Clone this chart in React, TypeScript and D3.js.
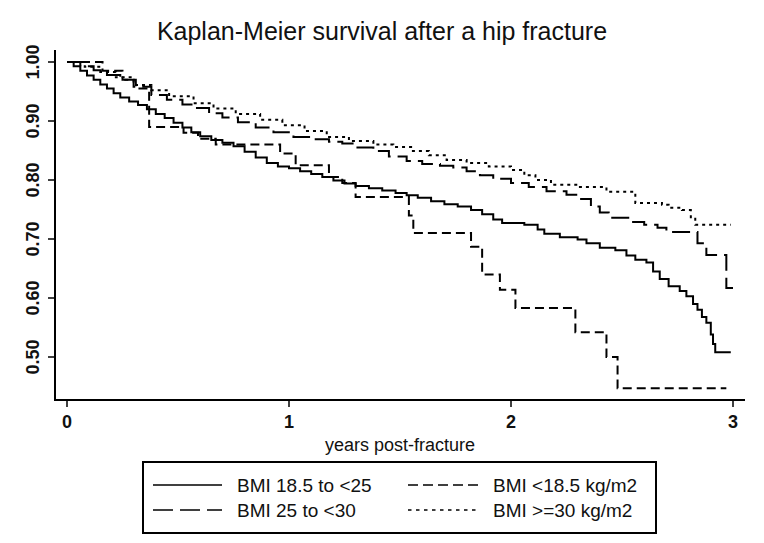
import React from "react";
import * as d3 from "d3";

const TITLE = "Kaplan-Meier survival after a hip fracture";
const X_LABEL = "years post-fracture";
const xTicks = [0, 1, 2, 3];
const yTicks = [0.5, 0.6, 0.7, 0.8, 0.9, 1.0];

// BMI 18.5 to <25 (solid)
const normalTime = [0, 0.03, 0.06, 0.09, 0.12, 0.15, 0.18, 0.21, 0.24, 0.28, 0.32, 0.36, 0.4, 0.44, 0.48, 0.52, 0.56, 0.6, 0.65, 0.7, 0.75, 0.8, 0.85, 0.9, 0.95, 1.0, 1.05, 1.1, 1.15, 1.2, 1.25, 1.3, 1.36, 1.42, 1.48, 1.53, 1.58, 1.64, 1.7, 1.76, 1.82, 1.87, 1.92, 1.96, 2.06, 2.12, 2.15, 2.22, 2.3, 2.34, 2.4, 2.47, 2.52, 2.56, 2.61, 2.64, 2.67, 2.71, 2.76, 2.79, 2.82, 2.84, 2.86, 2.88, 2.9, 2.91, 2.92, 2.99];
const normalSurv = [1.0, 0.993, 0.985, 0.977, 0.97, 0.962, 0.955, 0.947, 0.94, 0.933, 0.927, 0.92, 0.912, 0.905, 0.897, 0.889, 0.881, 0.874, 0.868, 0.863, 0.857, 0.848, 0.838, 0.829, 0.823, 0.82, 0.815, 0.81, 0.805, 0.799, 0.794, 0.79, 0.786, 0.782, 0.778, 0.774, 0.77, 0.764, 0.759, 0.755, 0.749, 0.742, 0.733, 0.727, 0.724, 0.716, 0.709, 0.703, 0.699, 0.693, 0.685, 0.681, 0.672, 0.665, 0.66, 0.645, 0.632, 0.62, 0.612, 0.603, 0.59, 0.58, 0.568, 0.558, 0.538, 0.522, 0.508, 0.508];

// BMI <18.5 kg/m2 (short dash)
const underTime = [0, 0.16, 0.25, 0.31, 0.37, 0.525, 0.59, 0.67, 0.96, 1.03, 1.18, 1.24, 1.3, 1.54, 1.56, 1.82, 1.87, 1.95, 2.02, 2.29, 2.43, 2.48, 2.97];
const underSurv = [1.0, 0.985, 0.97, 0.955, 0.89, 0.88, 0.87, 0.86, 0.845, 0.825, 0.805, 0.795, 0.771, 0.74, 0.71, 0.687, 0.64, 0.614, 0.583, 0.542, 0.5, 0.447, 0.447];

// BMI 25 to <30 (long dash)
const overTime = [0, 0.06, 0.12, 0.18, 0.24, 0.3, 0.38, 0.45, 0.52, 0.57, 0.64, 0.7, 0.77, 0.85, 0.93, 1.02, 1.1, 1.18, 1.24, 1.3, 1.38, 1.45, 1.53, 1.6, 1.68, 1.74, 1.8, 1.86, 1.92, 2.0, 2.08, 2.16, 2.25, 2.31, 2.36, 2.4, 2.44, 2.54, 2.6, 2.66, 2.7, 2.84, 2.88, 2.97, 3.0];
const overSurv = [1.0, 0.993, 0.986, 0.978, 0.97, 0.958, 0.944, 0.936, 0.928, 0.922, 0.913, 0.906, 0.898, 0.889, 0.881, 0.873, 0.869, 0.865, 0.862, 0.855, 0.849, 0.84, 0.832, 0.827, 0.824, 0.821, 0.815, 0.808, 0.802, 0.795, 0.788, 0.781, 0.775, 0.768, 0.755, 0.745, 0.736, 0.729, 0.724, 0.719, 0.712, 0.693, 0.673, 0.617, 0.617];

// BMI >=30 kg/m2 (dotted)
const obeseTime = [0, 0.08, 0.15, 0.22, 0.3, 0.38, 0.46, 0.57, 0.66, 0.76, 0.87, 0.97, 1.07, 1.17, 1.27, 1.38, 1.47, 1.55, 1.63, 1.71, 1.8, 1.9, 2.0, 2.06, 2.11, 2.18, 2.3, 2.43, 2.56, 2.68, 2.71, 2.77, 2.81, 2.83, 2.99];
const obeseSurv = [1.0, 0.992, 0.983, 0.974, 0.961, 0.952, 0.942, 0.93, 0.921, 0.912, 0.902, 0.893, 0.883, 0.873, 0.866, 0.86, 0.856, 0.849, 0.842, 0.834, 0.829, 0.823, 0.817, 0.808, 0.8, 0.792, 0.788, 0.78, 0.761, 0.758, 0.753, 0.749, 0.737, 0.724, 0.724];

const seriesNames = ["BMI 18.5 to <25", "BMI <18.5 kg/m2", "BMI 25 to <30", "BMI >=30 kg/m2"];

const FONT = "'Liberation Sans', Arial, Helvetica, sans-serif";

export default function App() {
  const W = 764, H = 543;
  const x = d3.scaleLinear().domain([0, 3]).range([67, 733]);
  const y = d3.scaleLinear().domain([0.5, 1.0]).range([357, 62]);
  const axisLeft = 55, axisRight = 745, axisTop = 50, axisBottom = 400;

  const line = d3
    .line<[number, number]>()
    .x((d) => x(d[0]))
    .y((d) => y(d[1]))
    .curve(d3.curveStepAfter);

  const zip = (t: number[], s: number[]) => t.map((v, i) => [v, s[i]] as [number, number]);

  const series = [
    { name: seriesNames[0], data: zip(normalTime, normalSurv), dash: "none", legendDash: "none" },
    { name: seriesNames[1], data: zip(underTime, underSurv), dash: "9,5", legendDash: "10,5" },
    { name: seriesNames[2], data: zip(overTime, overSurv), dash: "18,7", legendDash: "20,7" },
    { name: seriesNames[3], data: zip(obeseTime, obeseSurv), dash: "3,4", legendDash: "3.5,4.5" },
  ];

  const legendPos = [
    { lx: 153, tx: 237, ry: 485 },
    { lx: 408, tx: 493, ry: 485 },
    { lx: 153, tx: 237, ry: 510 },
    { lx: 408, tx: 493, ry: 510 },
  ];
  const legendLineLen = [69, 72, 69, 72];

  return (
    <svg width={W} height={H} style={{ position: "absolute", left: 0, top: 0, background: "#fff" }} fontFamily={FONT}>
      <rect x={0} y={0} width={W} height={H} fill="#fff" />
      <text x={382} y={40} textAnchor="middle" fontSize={25} fill="#111">
        {TITLE}
      </text>

      {/* axes */}
      <line x1={axisLeft} x2={axisLeft} y1={axisTop} y2={axisBottom} stroke="#000" strokeWidth={2} />
      <line x1={axisLeft - 1} x2={axisRight} y1={axisBottom} y2={axisBottom} stroke="#000" strokeWidth={2} />
      {yTicks.map((t) => (
        <g key={"y" + t}>
          <line x1={axisLeft - 7} x2={axisLeft} y1={y(t)} y2={y(t)} stroke="#000" strokeWidth={1.5} />
          <text
            transform={`translate(39,${y(t)}) rotate(-90)`}
            textAnchor="middle"
            fontSize={18}
            fontWeight="bold"
            fill="#111"
          >
            {t.toFixed(2)}
          </text>
        </g>
      ))}
      {xTicks.map((t) => (
        <g key={"x" + t}>
          <line x1={x(t)} x2={x(t)} y1={axisBottom} y2={axisBottom + 7} stroke="#000" strokeWidth={1.5} />
          <text x={x(t)} y={428} textAnchor="middle" fontSize={18} fontWeight="bold" fill="#111">
            {t}
          </text>
        </g>
      ))}
      <text x={400} y={451} textAnchor="middle" fontSize={18} fill="#111">
        {X_LABEL}
      </text>

      {/* curves */}
      {series.map((s) => (
        <path
          key={s.name}
          d={line(s.data) || ""}
          fill="none"
          stroke="#000"
          strokeWidth={2}
          strokeDasharray={s.dash}
        />
      ))}

      {/* legend */}
      <rect x={143} y={462} width={513} height={71} fill="none" stroke="#000" strokeWidth={2} />
      {series.map((s, i) => (
        <g key={"lg" + s.name}>
          <line
            x1={legendPos[i].lx}
            x2={legendPos[i].lx + legendLineLen[i]}
            y1={legendPos[i].ry}
            y2={legendPos[i].ry}
            stroke="#000"
            strokeWidth={1.5}
            strokeDasharray={s.legendDash}
          />
          <text x={legendPos[i].tx} y={legendPos[i].ry + 7} fontSize={19} fill="#111">
            {s.name}
          </text>
        </g>
      ))}
    </svg>
  );
}
